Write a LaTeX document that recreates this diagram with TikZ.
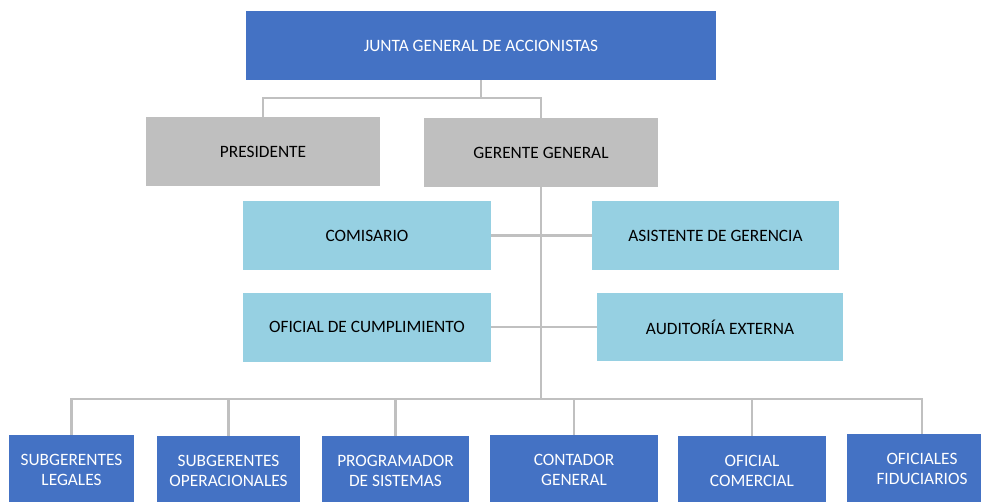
\documentclass[tikz,border=0pt]{standalone}
\usepackage{fontspec}
\setmainfont{Carlito}
\usepackage[HTML]{xcolor}
\usetikzlibrary{positioning}
\definecolor{jefe}{HTML}{4472C4}
\definecolor{gris}{HTML}{BFBFBF}
\definecolor{celeste}{HTML}{96D0E2}
\definecolor{linea}{HTML}{C0C0C0}

\begin{document}
\begin{tikzpicture}[x=0.75pt, y=-0.75pt,
  box/.style={rectangle, inner sep=0pt, align=center, font=\fontsize{13}{15}\selectfont},
  azul/.style={box, fill=jefe, text=white},
  plomo/.style={box, fill=gris, text=black},
  claro/.style={box, fill=celeste, text=black},
  link/.style={draw=linea, line width=2.2pt}]
\clip (0,0) rectangle (981,502);
\fill[white] (0,0) rectangle (981,502);

% top levels
\node[azul, minimum width=352.5pt, minimum height=51.75pt] (junta) at (481,45.5) {JUNTA GENERAL DE ACCIONISTAS};
\node[plomo, minimum width=175.5pt, minimum height=51.75pt] (presidente) at (263,151.5) {PRESIDENTE};
\node[plomo, minimum width=175.5pt, minimum height=51.75pt] (gerente) at (541,152.5) {GERENTE GENERAL};

% staff boxes beside the trunk
\node[claro, minimum width=186pt, minimum height=51.75pt] (comisario) at (367,235.5) {COMISARIO};
\node[claro, minimum width=185.25pt, minimum height=51.75pt] (asistente) at (715.5,235.5) {ASISTENTE DE GERENCIA};
\node[claro, minimum width=186pt, minimum height=51.75pt] (cumplimiento) at (367,327) {OFICIAL DE CUMPLIMIENTO};
\node[claro, minimum width=184.5pt, minimum height=51pt] (auditoria) at (720,327) {AUDITOR\'IA EXTERNA};

% bottom row
\node[azul, minimum width=93.75pt, minimum height=52.5pt] (legales) at (71.5,470) {SUBGERENTES\\LEGALES};
\node[azul, minimum width=107.25pt, minimum height=52.5pt] (operacionales) at (228.5,471) {SUBGERENTES\\OPERACIONALES};
\node[azul, minimum width=110.25pt, minimum height=52.5pt] (programador) at (395.5,471) {PROGRAMADOR\\DE SISTEMAS};
\node[azul, minimum width=126pt, minimum height=52.5pt] (contador) at (574,470) {CONTADOR\\GENERAL};
\node[azul, minimum width=111pt, minimum height=52.5pt] (comercial) at (752,471) {OFICIAL\\COMERCIAL};
\node[azul, minimum width=112.5pt, minimum height=52.5pt] (fiduciarios) at (922,469) {OFICIALES\\FIDUCIARIOS};

% connectors
\coordinate (split) at (481,98);
\coordinate (bus) at (541,399);
\draw[link] (junta.south) -- (split);
\draw[link] (split) -| (presidente.north);
\draw[link] (split) -| (gerente.north);
\draw[link] (gerente.south) -- (bus);
\draw[link] (comisario.east) -- (asistente.west);
\draw[link] (cumplimiento.east) -- (auditoria.west);
\foreach \n in {legales, operacionales, programador, contador, comercial, fiduciarios}
  \draw[link] (bus) -| (\n.north);
\end{tikzpicture}
\end{document}
